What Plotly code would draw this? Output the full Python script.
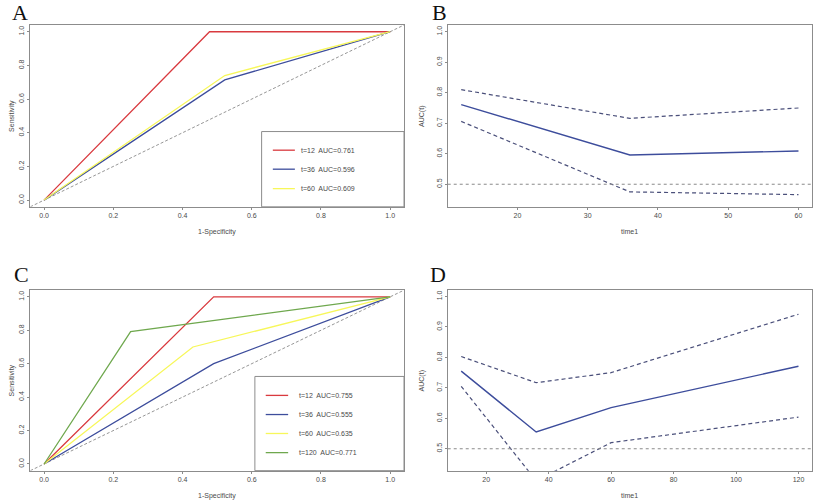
import plotly.graph_objects as go

# ROC curves (panel A: training, panel C: validation)
roc_a_times = [12, 36, 60]
roc_a_fpr = [[0, 0.478, 1], [0, 0.522, 1], [0, 0.522, 1]]
roc_a_tpr = [[0, 1.0, 1], [0, 0.714, 1], [0, 0.74, 1]]
roc_a_auc = [0.761, 0.596, 0.609]

roc_c_times = [12, 36, 60, 120]
roc_c_fpr = [[0, 0.49, 1], [0, 0.49, 1], [0, 0.43, 1], [0, 0.25, 1]]
roc_c_tpr = [[0, 1.0, 1], [0, 0.6, 1], [0, 0.70, 1], [0, 0.792, 1]]
roc_c_auc = [0.755, 0.555, 0.635, 0.771]

# time-dependent AUC with confidence bands
b_time = [12, 36, 60]
b_auc = [0.761, 0.596, 0.609]
b_upper = [0.81, 0.716, 0.75]
b_lower = [0.706, 0.475, 0.466]

d_time = [12, 36, 60, 120]
d_auc = [0.755, 0.555, 0.635, 0.771]
d_upper = [0.803, 0.717, 0.75, 0.942]
d_lower = [0.705, 0.395, 0.52, 0.604]

colors = ["#d93a3f", "#3d4d9c", "#f7f75a", "#6fa84e"]
navy = "#3d4d9c"
FONT = "Liberation Sans"
TXT = "#4a4a4a"

fig = go.Figure()

def axis_style(**kw):
    d = dict(showline=True, linecolor="#8c8c8c", linewidth=1.2, mirror=True,
             ticks="outside", ticklen=2, tickcolor="#8c8c8c", showgrid=False,
             zeroline=False, tickfont=dict(size=7, color=TXT, family=FONT))
    d.update(kw)
    return d

xdom_l = [0.0367, 0.4897]
xdom_r = [0.5427, 0.9842]
ydom_t = [0.5880, 0.9502]
ydom_b = [0.0624, 0.4220]

fig.update_layout(
    width=825, height=502, margin=dict(l=0, r=0, t=0, b=0),
    paper_bgcolor="white", plot_bgcolor="white", showlegend=False,
    xaxis=axis_style(domain=xdom_l, anchor="y", range=[-0.04, 1.04],
                     tickvals=[0, 0.2, 0.4, 0.6, 0.8, 1.0], tickformat=".1f"),
    yaxis=axis_style(domain=ydom_t, anchor="x", range=[-0.04, 1.04],
                     tickvals=[0, 0.2, 0.4, 0.6, 0.8, 1.0], tickformat=".1f", tickangle=-90),
    xaxis2=axis_style(domain=xdom_r, anchor="y2", range=[10.08, 61.92],
                      tickvals=[20, 30, 40, 50, 60]),
    yaxis2=axis_style(domain=ydom_t, anchor="x2", range=[0.426, 1.022],
                      tickvals=[0.5, 0.6, 0.7, 0.8, 0.9, 1.0], tickformat=".1f", tickangle=-90),
    xaxis3=axis_style(domain=xdom_l, anchor="y3", range=[-0.04, 1.04],
                      tickvals=[0, 0.2, 0.4, 0.6, 0.8, 1.0], tickformat=".1f"),
    yaxis3=axis_style(domain=ydom_b, anchor="x3", range=[-0.04, 1.04],
                      tickvals=[0, 0.2, 0.4, 0.6, 0.8, 1.0], tickformat=".1f", tickangle=-90),
    xaxis4=axis_style(domain=xdom_r, anchor="y4", range=[7.68, 124.32],
                      tickvals=[20, 40, 60, 80, 100, 120]),
    yaxis4=axis_style(domain=ydom_b, anchor="x4", range=[0.428, 1.021],
                      tickvals=[0.5, 0.6, 0.7, 0.8, 0.9, 1.0], tickformat=".1f", tickangle=-90),
)

# diagonal reference lines on ROC panels
for xr, yr in [("x", "y"), ("x3", "y3")]:
    fig.add_trace(go.Scatter(x=[-0.04, 1.04], y=[-0.04, 1.04], mode="lines",
                             line=dict(color="#8a8a8a", width=0.9, dash="3px,2px"),
                             xaxis=xr, yaxis=yr, hoverinfo="skip"))

for i, t in enumerate(roc_a_times):
    fig.add_trace(go.Scatter(x=roc_a_fpr[i], y=roc_a_tpr[i], mode="lines",
                             line=dict(color=colors[i], width=1.3), xaxis="x", yaxis="y"))
for i, t in enumerate(roc_c_times):
    fig.add_trace(go.Scatter(x=roc_c_fpr[i], y=roc_c_tpr[i], mode="lines",
                             line=dict(color=colors[i], width=1.3), xaxis="x3", yaxis="y3"))

# AUC(t) panels
for xr, yr, tt, auc, up, lo in [("x2", "y2", b_time, b_auc, b_upper, b_lower),
                                ("x4", "y4", d_time, d_auc, d_upper, d_lower)]:
    fig.add_shape(type="line", xref=xr + " domain", yref=yr, x0=0, x1=1, y0=0.5, y1=0.5,
                  line=dict(color="#8a8a8a", width=1, dash="dot"))
    fig.add_trace(go.Scatter(x=tt, y=auc, mode="lines", line=dict(color=navy, width=1.4),
                             xaxis=xr, yaxis=yr))
    for band in (up, lo):
        fig.add_trace(go.Scatter(x=tt, y=band, mode="lines",
                                 line=dict(color="#4a4f7a", width=1.2, dash="4px,3px"),
                                 xaxis=xr, yaxis=yr))

# legends drawn R-style inside ROC panels
def draw_legend(xr, yr, times, aucs, x0, y0, rows, lx0, lx1, tx):
    fig.add_shape(type="rect", xref=xr + " domain", yref=yr + " domain",
                  x0=x0, x1=1, y0=0, y1=y0, line=dict(color="#8c8c8c", width=1),
                  fillcolor="white", layer="above")
    for i, t in enumerate(times):
        fig.add_shape(type="line", xref=xr + " domain", yref=yr + " domain",
                      x0=lx0, x1=lx1, y0=rows[i], y1=rows[i],
                      line=dict(color=colors[i], width=1.3), layer="above")
        fig.add_annotation(xref=xr + " domain", yref=yr + " domain", x=tx, y=rows[i],
                           text=f"t={t}  AUC={aucs[i]:.3f}", showarrow=False,
                           xanchor="left", yanchor="middle",
                           font=dict(size=7, color=TXT, family=FONT))

draw_legend("x", "y", roc_a_times, roc_a_auc, 0.619, 0.414,
            [0.3115, 0.207, 0.10], 0.649, 0.708, 0.72)
draw_legend("x3", "y3", roc_c_times, roc_c_auc, 0.601, 0.522,
            [0.417, 0.311, 0.206, 0.10], 0.63, 0.69, 0.714)

# axis titles
def title_x(xdom, ypx, text):
    fig.add_annotation(xref="paper", yref="paper", x=(xdom[0] + xdom[1]) / 2,
                       y=1 - ypx / 502, text=text, showarrow=False,
                       xanchor="center", yanchor="middle",
                       font=dict(size=7, color=TXT, family=FONT))

def title_y(xpx, ydom, text):
    fig.add_annotation(xref="paper", yref="paper", x=xpx / 825,
                       y=(ydom[0] + ydom[1]) / 2, text=text, showarrow=False, textangle=-90,
                       xanchor="center", yanchor="middle",
                       font=dict(size=7, color=TXT, family=FONT))

title_x(xdom_l, 232, "1-Specificity")
title_x(xdom_r, 231, "time1")
title_x(xdom_l, 496, "1-Specificity")
title_x(xdom_r, 495, "time1")
title_y(12, ydom_t, "Sensitivity")
title_y(422, ydom_t, "AUC(t)")
title_y(12, ydom_b, "Sensitivity")
title_y(422, ydom_b, "AUC(t)")

# panel letters
for letter, xp, yp in [("A", 20, 13), ("B", 439, 13), ("C", 21, 274), ("D", 438, 274)]:
    fig.add_annotation(xref="paper", yref="paper", x=xp / 825, y=1 - yp / 502,
                       text=letter, showarrow=False, xanchor="center", yanchor="middle",
                       font=dict(size=22, color="#111", family="Liberation Serif"))

fig.write_html("out.html", config={"displayModeBar": False},
               post_script="document.body.style.margin='0';")
